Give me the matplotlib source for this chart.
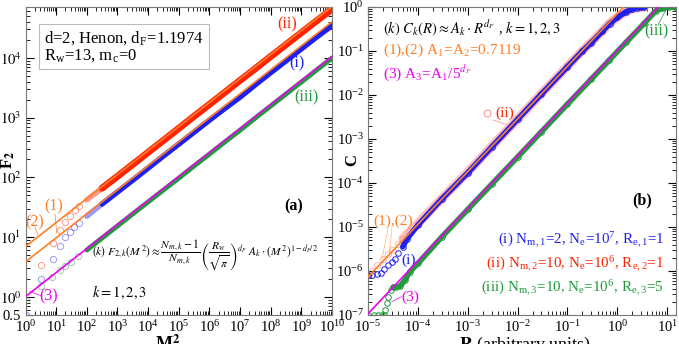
import matplotlib
matplotlib.use("Agg")
import matplotlib.pyplot as plt
from matplotlib.ticker import LogLocator, NullFormatter, FixedLocator, FixedFormatter

plt.rcParams['font.family'] = ['Liberation Serif', 'DejaVu Serif']
plt.rcParams['mathtext.fontset'] = 'stix'

# ---------------- data: panel (a) ----------------
m2_early_i = [1, 3.2, 7.8, 13.1, 19, 29, 37.5, 55]
f2_early_i = [0.5, 1.98, 4.27, 7.1, 10.2, 12.4, 14.6, 17.0]
m2_early_ii = [3.2, 7.8, 13.8, 19, 29, 42.5, 55]
f2_early_ii = [3.4, 7.9, 13.2, 18.2, 22.9, 28.5, 33.8]
m2_early_iii = [1, 3.2, 7.4, 13, 20, 30, 50]
f2_early_iii = [0.9, 1.55, 2.2, 2.8, 3.3, 3.9, 4.8]

m2_dense = [1e2, 3.16e2, 1e3, 3.16e3, 1e4, 3.16e4, 1e5, 3.16e5, 1e6, 3.16e6,
            1e7, 3.16e7, 1e8, 3.16e8, 1e9, 3.16e9, 1e10]
f2_i = [22.5, 36, 57, 90, 143, 228, 360, 570, 905, 1420, 2200, 3550, 5650,
        8900, 14100, 22300, 34500]
f2_ii = [42, 66, 104, 165, 262, 415, 660, 1050, 1660, 2630, 4180, 6600, 10500,
         16600, 26300, 41500, 65000]
f2_iii = [6.1, 9.7, 15.4, 24.5, 38.8, 61.5, 97, 155, 245, 390, 615, 985, 1560,
          2480, 3930, 6250, 9900]

fit_a_x = [1, 1e10]
fit_a_1 = [3.87, 3.99e4]
fit_a_2 = [6.97, 7.18e4]
fit_a_3 = [1.015, 1.05e4]

# ---------------- data: panel (b) ----------------
r_i = [1.0e-5, 1.2e-5, 1.5e-5, 1.8e-5, 2.1e-5, 2.5e-5, 3.0e-5, 3.5e-5, 4.0e-5,
       5e-5, 6e-5, 1e-4, 3e-4, 1e-3, 3e-3, 1e-2, 3e-2, 0.1, 0.2, 0.3, 0.5, 0.7,
       1.0, 1.5, 2.0, 2.5, 3.0, 3.5]
c_i = [8.0e-7, 8.3e-7, 8.6e-7, 9.2e-7, 1.1e-6, 1.35e-6, 1.6e-6, 1.9e-6, 2.5e-6,
       3.6e-6, 5.3e-6, 1.1e-5, 4.3e-5, 1.7e-4, 6.5e-4, 2.8e-3, 1.05e-2, 4.4e-2,
       0.1, 0.155, 0.28, 0.42, 0.58, 0.78, 0.9, 0.96, 0.99, 1.0]
r_ii = [1.0e-5, 1.2e-5, 1.5e-5, 2e-5, 2.5e-5, 3e-5, 4e-5, 5e-5, 7e-5, 1e-4,
        3e-4, 1e-3, 3e-3, 1e-2, 3e-2, 0.1, 0.2, 0.3, 0.5, 0.7, 1.0, 1.5, 2.0,
        2.5, 3.0, 3.5]
c_ii = [8.0e-7, 1.0e-6, 1.35e-6, 1.9e-6, 2.4e-6, 3.0e-6, 4.2e-6, 5.4e-6, 8e-6,
        1.2e-5, 4.4e-5, 1.75e-4, 6.7e-4, 2.85e-3, 1.07e-2, 4.5e-2, 0.102, 0.158,
        0.285, 0.43, 0.59, 0.79, 0.91, 0.965, 0.99, 1.0]
r_iii = [1.0e-5, 1.3e-5, 1.6e-5, 1.9e-5, 2.05e-5, 2.19e-5, 2.36e-5, 2.55e-5,
         2.84e-5, 3.2e-5, 3.7e-5, 4.37e-5, 5.5e-5, 6.9e-5, 1.01e-4, 3e-4, 1e-3,
         3e-3, 1e-2, 3e-2, 0.1, 0.3, 0.69, 1.5, 3.5, 5.9, 8, 11, 14.5]
c_iii = [1e-7, 1e-7, 1e-7, 1e-7, 1.0e-7, 1.3e-7, 1.84e-7, 2.6e-7, 3.7e-7,
         4.25e-7, 4.35e-7, 4.5e-7, 6.2e-7, 9.6e-7, 1.5e-6, 5.9e-6, 2.5e-5,
         9.3e-5, 3.9e-4, 1.46e-3, 6.2e-3, 0.023, 0.062, 0.158, 0.43, 0.82,
         0.95, 1.0, 1.0]

fit_b12_x = [1e-5, 2]
fit_b12_y = [7.3e-7, 1.63]
fit_b3_x = [1e-5, 8]
fit_b3_y = [1.07e-7, 1.255]

RED = '#ff2200'
PINK = '#ff8c8c'
BLUE = '#1f1fee'
GREEN = '#1f9a3c'
ORANGE = '#ff7f24'
MAGENTA = '#f000f0'

W, H = 679, 344
fig = plt.figure(figsize=(W / 100, H / 100), dpi=100)
axa = fig.add_axes([25.5 / W, 29 / H, 306.5 / W, 308 / H])
axb = fig.add_axes([368 / W, 29 / H, 308 / W, 308 / H])

circ = dict(marker='o', mfc='none', linestyle='none', mew=0.7)

# ---- panel (a)
axa.plot(m2_early_ii, f2_early_ii, color=RED, ms=4.5, alpha=0.45, **circ)
axa.plot(m2_early_i, f2_early_i, color=BLUE, ms=4.5, alpha=0.45, **circ)
axa.plot(m2_early_iii, f2_early_iii, color=GREEN, ms=4.5, alpha=0.45, **circ)
axa.plot(m2_dense[:2], f2_ii[:2], color=RED, lw=4, alpha=0.45, solid_capstyle='round')
axa.plot(m2_dense[1:], f2_ii[1:], color=RED, lw=5, solid_capstyle='round')
axa.plot(m2_dense[:2], f2_i[:2], color=BLUE, lw=4, alpha=0.45, solid_capstyle='round')
axa.plot(m2_dense[1:], f2_i[1:], color=BLUE, lw=4, solid_capstyle='round')
axa.plot(m2_dense, f2_iii, color=GREEN, lw=3.5, solid_capstyle='round')
axa.plot(fit_a_x, fit_a_1, color=ORANGE, lw=1.2, zorder=5)
axa.plot(fit_a_x, fit_a_2, color=ORANGE, lw=1.2, zorder=5)
axa.plot(fit_a_x, fit_a_3, color=MAGENTA, lw=1.2, zorder=5)

axa.set_xscale('log')
axa.set_yscale('log')
axa.set_xlim(1, 1e10)
axa.set_ylim(0.5, 7.06e4)

# ---- panel (b)
axb.plot(r_ii[7:], c_ii[7:], color='#ffbdbd', lw=6.5, solid_capstyle='round')
axb.plot(r_ii, c_ii, color=PINK, ms=4.5, alpha=0.6, **circ)
axb.plot(r_i[9:], c_i[9:], color=BLUE, lw=4, solid_capstyle='round')
axb.plot(r_i, c_i, color=BLUE, ms=4, **circ)
axb.plot(r_iii[9:], c_iii[9:], color=GREEN, lw=4, solid_capstyle='round')
axb.plot(r_iii, c_iii, color=GREEN, ms=4, **circ)
axb.plot(fit_b12_x, fit_b12_y, color=ORANGE, lw=1.2, zorder=5)
axb.plot(fit_b3_x, fit_b3_y, color=MAGENTA, lw=1.2, zorder=5)

axb.set_xscale('log')
axb.set_yscale('log')
axb.set_xlim(1e-5, 15)
axb.set_ylim(1e-7, 1)

for ax in (axa, axb):
    ax.tick_params(which='both', direction='in', top=True, right=True,
                   labelsize=10.5, pad=3)
    ax.tick_params(which='major', length=6, width=0.8)
    ax.tick_params(which='minor', length=3, width=0.6)
    ax.xaxis.set_minor_locator(LogLocator(base=10, subs=range(2, 10), numticks=30))
    ax.yaxis.set_minor_locator(LogLocator(base=10, subs=range(2, 10), numticks=30))
    ax.xaxis.set_minor_formatter(NullFormatter())
    ax.yaxis.set_minor_formatter(NullFormatter())
    for s in ax.spines.values():
        s.set_color('#777777')
        s.set_linewidth(0.8)

axa.xaxis.set_major_locator(LogLocator(base=10, numticks=20))
axa.yaxis.set_major_locator(FixedLocator([0.5, 1, 10, 100, 1e3, 1e4]))
axa.yaxis.set_major_formatter(FixedFormatter(['0.5', '$10^0$', '$10^1$', '$10^2$', '$10^3$', '$10^4$']))
axb.xaxis.set_major_locator(LogLocator(base=10, numticks=20))
axb.yaxis.set_major_locator(LogLocator(base=10, numticks=20))

# ---- texts panel (a)
ta = axa.transAxes
axa.text(0.06, 0.928, 'd=2, Henon, d$_\\mathregular{F}$=1.1974\nR$_\\mathregular{w}$=13, m$_\\mathregular{c}$=0',
         transform=ta, ha='left', va='top', fontsize=12, linespacing=1.05,
         bbox=dict(boxstyle='square,pad=0.3', fc='white', ec='#bbbbbb', lw=0.8))
axa.text(0.853, 0.942, '(ii)', transform=ta, color=RED, fontsize=11.5, ha='center', va='center')
axa.text(0.886, 0.818, '(i)', transform=ta, color=BLUE, fontsize=11.5, ha='center', va='center')
axa.text(0.918, 0.705, '(iii)', transform=ta, color=GREEN, fontsize=11.5, ha='center', va='center')
axa.text(0.876, 0.354, '(a)', transform=ta, fontsize=11.5, fontweight='bold', ha='center', va='center')
axa.text(0.0907, 0.352, '(1)', transform=ta, color=ORANGE, fontsize=11.5, ha='center', va='center')
axa.text(0.031, 0.30, '(2)', transform=ta, color=ORANGE, fontsize=11.5, ha='center', va='center')
axa.text(0.0744, 0.0594, '(3)', transform=ta, color=MAGENTA, fontsize=11.5, ha='center', va='center')
axa.plot([0.0962, 0.1018], [0.328, 0.266], transform=ta, color=ORANGE, lw=0.5)
axa.plot([0.031, 0.0418], [0.2847, 0.2575], transform=ta, color=ORANGE, lw=0.5)
axa.plot([0.0529, 0.0147], [0.0617, 0.0757], transform=ta, color=MAGENTA, lw=0.5)
axa.text(0.217, 0.195,
         r'$(k)\ F_{2,k}\left(M^{\,2}\right)\approx\dfrac{N_{m,k}-1}{N_{m,k}}\left(\dfrac{R_w}{\sqrt{\pi}}\right)^{d_F}\ A_k\cdot\left(M^{\,2}\right)^{1-d_F/2}$',
         transform=ta, fontsize=8.3, ha='left', va='center')
axa.text(0.217, 0.075, r'$k=1,2,3$', transform=ta, fontsize=10.5, ha='left', va='center')

# ---- texts panel (b)
tb = axb.transAxes
axb.text(0.0487, 0.932, r'$(k)\ C_k\left(R\right)\approx A_k\cdot R^{d_F}$ , $k=1,2,3$',
         transform=tb, fontsize=10.5, ha='left', va='center')
axb.text(0.0487, 0.860, '(1),(2) A$_\\mathregular{1}$=A$_\\mathregular{2}$=0.7119', transform=tb,
         color=ORANGE, fontsize=11, ha='left', va='center')
axb.text(0.0487, 0.786, '(3) A$_\\mathregular{3}$=A$_\\mathregular{1}$/5$^{d_F}$', transform=tb,
         color=MAGENTA, fontsize=11, ha='left', va='center')
axb.plot([0.385], [0.655], transform=tb, marker='o', mfc='none', color=PINK, ms=5, mew=0.7)
axb.text(0.412, 0.655, '(ii)', transform=tb, color=RED, fontsize=11, ha='left', va='center')
axb.plot([0.406, 0.4545], [0.633, 0.617], transform=tb, color=PINK, lw=0.5)
axb.text(0.889, 0.373, '(b)', transform=tb, fontsize=11.5, fontweight='bold', ha='center', va='center')
axb.text(0.082, 0.303, '(1),(2)', transform=tb, color=ORANGE, fontsize=11, ha='center', va='center')
axb.plot([0.065, 0.045], [0.28, 0.18], transform=tb, color=ORANGE, lw=0.4, alpha=0.7)
axb.plot([0.077, 0.07], [0.28, 0.19], transform=tb, color=ORANGE, lw=0.4, alpha=0.7)
axb.text(0.131, 0.179, '(i)', transform=tb, color=BLUE, fontsize=11, ha='center', va='center')
axb.text(0.136, 0.0575, '(3)', transform=tb, color=MAGENTA, fontsize=11, ha='center', va='center')
axb.plot([0.109, 0.077], [0.0594, 0.0433], transform=tb, color=MAGENTA, lw=0.5)
axb.text(0.937, 0.92, '(iii)', transform=tb, color=GREEN, fontsize=11.5, ha='center', va='center')
axb.plot([0.9416, 0.9698], [0.9416, 0.9958], transform=tb, color=GREEN, lw=0.5)

leg = [('(i) N$_\\mathregular{m,1}$=2, N$_\\mathregular{e}$=10$^\\mathregular{7}$, R$_\\mathregular{e,1}$=1', BLUE, 0.2435),
       ('(ii) N$_\\mathregular{m,2}$=10, N$_\\mathregular{e}$=10$^\\mathregular{6}$, R$_\\mathregular{e,2}$=1', RED, 0.1656),
       ('(iii) N$_\\mathregular{m,3}$=10, N$_\\mathregular{e}$=10$^\\mathregular{6}$, R$_\\mathregular{e,3}$=5', GREEN, 0.0877)]
for s, c, y in leg:
    axb.text(0.961, y, s, transform=tb, color=c, fontsize=10.8, ha='right', va='center')

# ---- axis labels
fig.text(8 / W, 1 - 160 / H, 'F$_\\mathbf{2}$', rotation=90, fontsize=12, fontweight='bold',
         ha='center', va='center')
fig.text(352 / W, 1 - 160 / H, 'C', rotation=90, fontsize=12, fontweight='bold',
         ha='center', va='center')
fig.text(168 / W, 1 - 335 / H, 'M$^\\mathbf{2}$', fontsize=13, fontweight='bold', ha='center', va='top')
fig.text(525 / W, 1 - 335 / H, r'$\mathbf{R}$ (arbitrary units)', fontsize=13, ha='center', va='top')

fig.savefig('out.png', dpi=100)
